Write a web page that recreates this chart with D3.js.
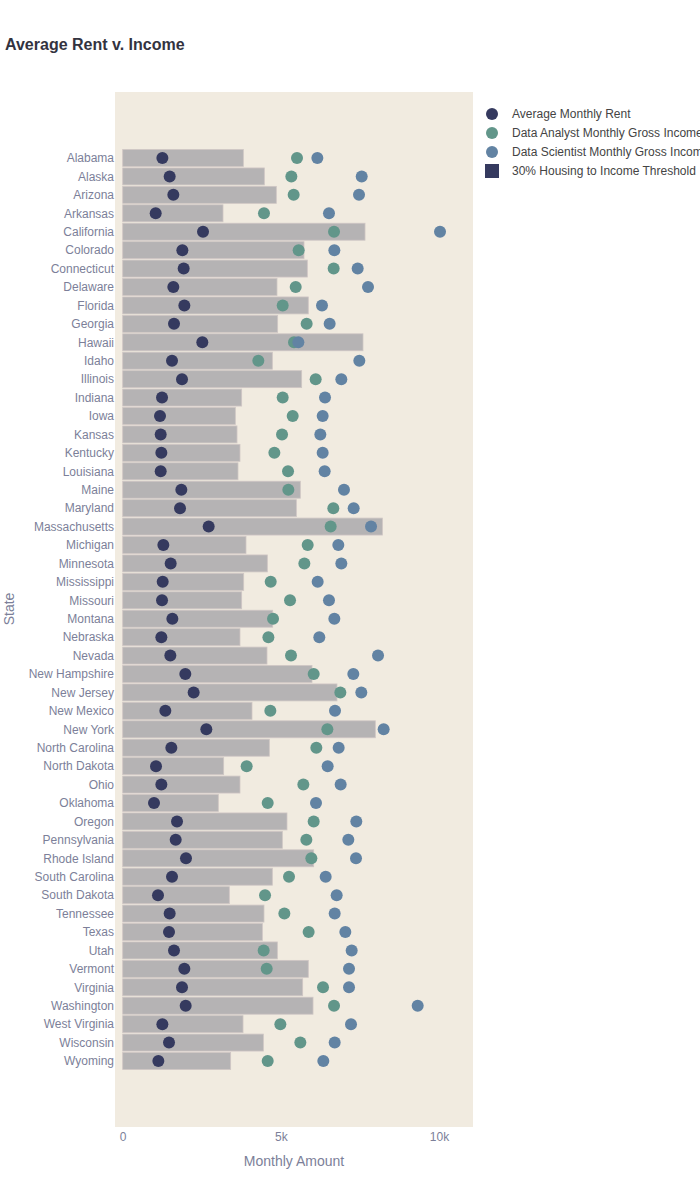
<!DOCTYPE html>
<html>
<head>
<meta charset="utf-8">
<script src="https://cdn.jsdelivr.net/npm/d3@7"></script>
<style>
  body { margin: 0; background: #fff; }
  svg { display: block; font-family: "Liberation Sans", Arial, sans-serif; }
</style>
</head>
<body>
<svg id="chart" width="700" height="1200"></svg>
<script>
const states = ["Alabama","Alaska","Arizona","Arkansas","California","Colorado","Connecticut","Delaware","Florida","Georgia","Hawaii","Idaho","Illinois","Indiana","Iowa","Kansas","Kentucky","Louisiana","Maine","Maryland","Massachusetts","Michigan","Minnesota","Mississippi","Missouri","Montana","Nebraska","Nevada","New Hampshire","New Jersey","New Mexico","New York","North Carolina","North Dakota","Ohio","Oklahoma","Oregon","Pennsylvania","Rhode Island","South Carolina","South Dakota","Tennessee","Texas","Utah","Vermont","Virginia","Washington","West Virginia","Wisconsin","Wyoming"];

const avgRent = [1254,1485,1601,1043,2539,1886,1928,1601,1949,1622,2517,1559,1875,1243,1179,1201,1222,1201,1854,1812,2718,1285,1517,1264,1243,1570,1222,1506,1980,2243,1348,2644,1538,1053,1222,990,1717,1675,2001,1559,1116,1485,1464,1622,1949,1875,1991,1254,1464,1127];

const threshold = [3814,4478,4857,3171,7661,5732,5837,4878,5868,4899,7597,4731,5658,3761,3561,3614,3708,3645,5616,5490,8210,3898,4573,3825,3761,4742,3708,4562,5985,6775,4088,7987,4636,3192,3708,3023,5194,5047,6038,4731,3371,4467,4415,4889,5868,5690,6017,3804,4447,3413];

const analystIncome = [5511,5332,5405,4467,6681,5563,6670,5469,5058,5816,5416,4288,6101,5058,5374,5037,4795,5227,5237,6659,6575,5848,5743,4679,5290,4753,4606,5321,6038,6881,4668,6470,6122,3919,5711,4584,6038,5806,5964,5258,4500,5111,5879,4457,4552,6333,6681,4984,5616,4584];

const scientistIncome = [6154,7556,7471,6522,10032,6691,7429,7756,6301,6543,5553,7481,6912,6396,6322,6248,6322,6385,6996,7302,7851,6817,6912,6164,6522,6691,6216,8072,7291,7544,6712,8250,6828,6480,6891,6111,7386,7133,7376,6417,6765,6702,7039,7239,7155,7155,9326,7218,6702,6343];

const xTicks = [0, 5000, 10000];
const xTickLabels = ["0", "5k", "10k"];

const seriesNames = ["Average Monthly Rent", "Data Analyst Monthly Gross Income", "Data Scientist Monthly Gross Income", "30% Housing to Income Threshold"];

const colors = { rent: "#353a5f", analyst: "#62968a", scientist: "#6283a3", bar: "#b5b3b4", bg: "#f1ebe0", text: "#7c7f99" };

const svg = d3.select("#chart");
const plot = { left: 115, right: 473, top: 92, bottom: 1127 };

svg.append("rect").attr("x", plot.left).attr("y", plot.top)
  .attr("width", plot.right - plot.left).attr("height", plot.bottom - plot.top)
  .attr("fill", colors.bg);

const x = d3.scaleLinear().domain([0, 10000]).range([122.7, 439]);
const y = d3.scalePoint().domain(states).range([158, 1061]);
const step = y.step();
const barH = step * 0.92;

const g = svg.append("g");

// bars
g.selectAll("rect.bar").data(states).join("rect")
  .attr("class", "bar")
  .attr("x", x(0))
  .attr("y", (d) => y(d) - barH / 2)
  .attr("width", (d, i) => x(threshold[i]) - x(0))
  .attr("height", barH)
  .attr("fill", colors.bar)
  .attr("stroke", "#cfc6c4")
  .attr("stroke-width", 0.8);

function dots(values, color) {
  g.append("g").selectAll("circle").data(states).join("circle")
    .attr("cx", (d, i) => x(values[i]))
    .attr("cy", (d) => y(d))
    .attr("r", 6)
    .attr("fill", color);
}
dots(avgRent, colors.rent);
dots(analystIncome, colors.analyst);
dots(scientistIncome, colors.scientist);

// y axis labels
const yAxis = d3.axisLeft(y).tickSize(0).tickPadding(0);
const yg = svg.append("g").attr("transform", `translate(${plot.left - 1},0)`).call(yAxis);
yg.select(".domain").remove();
yg.selectAll("text").attr("fill", colors.text).attr("font-size", 12)
  .attr("font-family", '"Liberation Sans", Arial, sans-serif');

// x axis
const xAxis = d3.axisBottom(x).tickValues(xTicks).tickFormat((d, i) => xTickLabels[i]).tickSize(0).tickPadding(0);
const xg = svg.append("g").attr("transform", `translate(0,${plot.bottom + 5})`).call(xAxis);
xg.select(".domain").remove();
xg.selectAll("text").attr("fill", colors.text).attr("font-size", 12)
  .attr("font-family", '"Liberation Sans", Arial, sans-serif');

// axis titles
svg.append("text").attr("x", 294).attr("y", 1166).attr("text-anchor", "middle")
  .attr("fill", colors.text).attr("font-size", 14).text("Monthly Amount");
svg.append("text").attr("transform", "translate(14,609) rotate(-90)").attr("text-anchor", "middle")
  .attr("fill", colors.text).attr("font-size", 14).text("State");

// title
svg.append("text").attr("x", 5).attr("y", 50).attr("font-size", 16).attr("font-weight", "bold")
  .attr("fill", "#33333f").text("Average Rent v. Income");

// legend
const lg = svg.append("g");
lg.append("rect").attr("x", 473).attr("y", 96).attr("width", 230).attr("height", 88).attr("fill", "#fff");
const legendColors = [colors.rent, colors.analyst, colors.scientist, colors.rent];
seriesNames.forEach((name, i) => {
  const cy = 114 + i * 19;
  if (i < 3) {
    lg.append("circle").attr("cx", 492).attr("cy", cy).attr("r", 6).attr("fill", legendColors[i]);
  } else {
    lg.append("rect").attr("x", 485).attr("y", cy - 7).attr("width", 14).attr("height", 14).attr("fill", legendColors[i]);
  }
  lg.append("text").attr("x", 512).attr("y", cy + 4).attr("font-size", 12).attr("fill", "#444")
    .text(name);
});
</script>
</body>
</html>
